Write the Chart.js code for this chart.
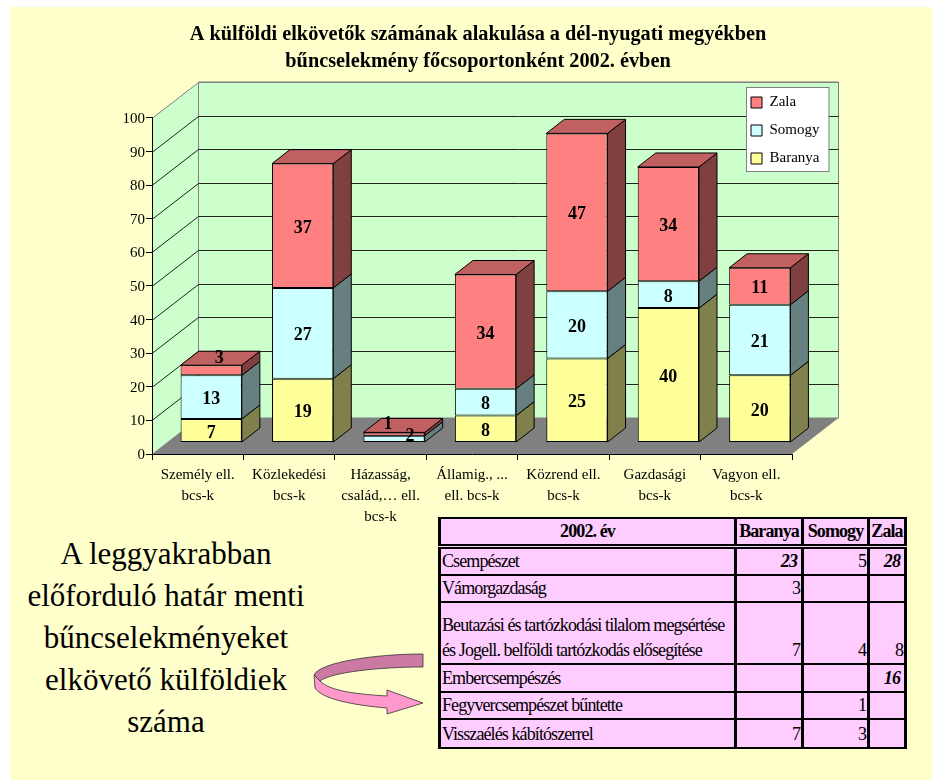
<!DOCTYPE html>
<html lang="hu">
<head>
<meta charset="utf-8">
<title>Külföldi elkövetők 2002</title>
<script src="https://cdn.jsdelivr.net/npm/chart.js@4"></script>
<style>
    html, body { margin: 0; padding: 0; background: #fff; overflow: hidden; }
    #lap { position: absolute; left: 10px; top: 7px; width: 922px; height: 773px; background: #ffffcc; }
    #grafikon { position: absolute; left: 24px; top: 0; }
    #szoveg {
        position: absolute; left: 0; top: 533px; width: 332px; text-align: center;
        font: 31px/42px "Liberation Serif", serif; color: #000;
    }
    #nyil { position: absolute; left: 300px; top: 640px; }
    #tabla {
        position: absolute; left: 438px; top: 517px; width: 466px; table-layout: fixed;
        border-collapse: collapse; background: #ffccff; color: #000;
        font: 18px/25px "Liberation Serif", serif; letter-spacing: -0.9px;
    }
    #tabla td, #tabla th { border: 2px solid #000; border-left-width: 3px; border-right-width: 3px; padding: 0 1px; vertical-align: bottom; overflow: hidden; white-space: nowrap; }
    #tabla th { text-align: center; border-bottom: 5px double #000; }
    #tabla td.szam { text-align: right; }
    #tabla td.kiemelt { font-weight: bold; font-style: italic; padding-right: 4px; }
</style>
</head>
<body>
<div id="lap"></div>
<canvas id="grafikon" width="908" height="530"></canvas>
<div id="szoveg">A leggyakrabban<br>előforduló határ menti<br>bűncselekményeket<br>elkövető külföldiek<br>száma</div>
<svg id="nyil" width="130" height="80" viewBox="300 640 130 80">
    <path d="M423,654 C376,654 320,662 314,675 L320,681 C332,672 380,667 423,667 Z" fill="#cc7aa3" stroke="#333" stroke-width="0.8"/>
    <path d="M314,675 L315,688 C322,699 352,705 387,708 L387,714 L423,703 L387,690 L387,696 C355,694 330,691 320,681 Z" fill="#ff99cc" stroke="#333" stroke-width="0.8"/>
</svg>
<table id="tabla"></table>

<script>
// Adatok
const categories = [
    ['Személy ell.', 'bcs-k'],
    ['Közlekedési', 'bcs-k'],
    ['Házasság,', 'család,… ell.', 'bcs-k'],
    ['Államig., ...', 'ell. bcs-k'],
    ['Közrend ell.', 'bcs-k'],
    ['Gazdasági', 'bcs-k'],
    ['Vagyon ell.', 'bcs-k']
];
const baranya = [7, 19, 0, 8, 25, 40, 20];
const somogy = [13, 27, 2, 8, 20, 8, 21];
const zala = [3, 37, 1, 34, 47, 34, 11];

const titleLines = [
    'A külföldi elkövetők számának alakulása a dél-nyugati megyékben',
    'bűncselekmény főcsoportonként 2002. évben'
];

const tableHeader = ['2002. év', 'Baranya', 'Somogy', 'Zala'];
const tableRows = [
    ['Csempészet'],
    ['Vámorgazdaság'],
    ['Beutazási és tartózkodási tilalom megsértése', 'és Jogell. belföldi tartózkodás elősegítése'],
    ['Embercsempészés'],
    ['Fegyvercsempészet bűntette'],
    ['Visszaélés kábítószerrel']
];
const tableBaranya = ['23', '3', '7', '', '', '7'];
const tableSomogy = ['5', '', '4', '', '1', '3'];
const tableZala = ['28', '', '8', '16', '', ''];
const tableBold = ['23', '28', '16'];

// Táblázat
const colWidths = [296, 67, 66, 37];
const rowHeights = [27, 28, 27, 62, 28, 27, 29];
const table = document.getElementById('tabla');
const colgroup = document.createElement('colgroup');
colWidths.forEach(function (w) {
    const col = document.createElement('col');
    col.style.width = w + 'px';
    colgroup.appendChild(col);
});
table.appendChild(colgroup);

const headRow = table.insertRow();
headRow.style.height = rowHeights[0] + 'px';
tableHeader.forEach(function (text) {
    const th = document.createElement('th');
    th.textContent = text;
    headRow.appendChild(th);
});
tableRows.forEach(function (lines, i) {
    const tr = table.insertRow();
    tr.style.height = rowHeights[i + 1] + 'px';
    const name = tr.insertCell();
    name.innerHTML = lines.join('<br>');
    [tableBaranya, tableSomogy, tableZala].forEach(function (column) {
        const td = tr.insertCell();
        td.textContent = column[i];
        td.className = tableBold.includes(column[i]) ? 'szam kiemelt' : 'szam';
    });
});

// 3D hatás: a fal és az oszlopok eltolása
const wall = { dx: 46.5, dy: 36 };
const barShift = { dx: 13.5, dy: 11.5 };
const barDepth = { dx: 18, dy: 14 };
const sideColors = ['#80804d', '#668080', '#804040'];
const topColor = '#c06060';
const legendFrame = { x: 722, y: 87, w: 82.5, h: 84 };
const FONT = '"Liberation Serif", serif';

// kézzel arrébb tolt feliratok, mint az eredetin: sorozat:kategória
const labelNudges = { '2:0': [8, -14.5], '2:2': [-6, -12.5], '1:2': [16, -5.5] };

function quad(ctx, pts, fill, stroke) {
    ctx.beginPath();
    ctx.moveTo(pts[0][0], pts[0][1]);
    for (let i = 1; i < pts.length; i++) ctx.lineTo(pts[i][0], pts[i][1]);
    ctx.closePath();
    ctx.fillStyle = fill;
    ctx.fill();
    if (stroke) {
        ctx.strokeStyle = stroke;
        ctx.lineWidth = 1;
        ctx.stroke();
    }
}

const scene3d = {
    id: 'scene3d',
    afterLayout: function (chart) {
        // a cím a teljes vászonra, a jelmagyarázat a fal jobb felső sarkába kerül
        chart.titleBlock.left = 0;
        chart.titleBlock.right = chart.width;
        chart.legend.left = legendFrame.x - 8;
        chart.legend.right = legendFrame.x + legendFrame.w;
        chart.legend.top = legendFrame.y - 5;
        chart.legend.bottom = legendFrame.y + legendFrame.h + 40;
    },
    beforeDraw: function (chart) {
        const ctx = chart.ctx;
        const a = chart.chartArea;
        const y = chart.scales.y;
        ctx.save();
        // oldalfal, hátsó fal, padló
        quad(ctx, [[a.left, a.top], [a.left + wall.dx, a.top - wall.dy], [a.left + wall.dx, a.bottom - wall.dy], [a.left, a.bottom]], '#ccffcc');
        quad(ctx, [[a.left + wall.dx, a.top - wall.dy], [a.right + wall.dx, a.top - wall.dy], [a.right + wall.dx, a.bottom - wall.dy], [a.left + wall.dx, a.bottom - wall.dy]], '#ccffcc', '#808080');
        quad(ctx, [[a.left, a.bottom], [a.right, a.bottom], [a.right + wall.dx, a.bottom - wall.dy], [a.left + wall.dx, a.bottom - wall.dy]], '#808080');

        // rácsvonalak
        y.ticks.forEach(function (t) {
            if (t.value === 0) return;
            const py = Math.round(y.getPixelForValue(t.value)) + 0.5;
            ctx.strokeStyle = t.value === 100 ? '#808080' : '#222';
            ctx.lineWidth = 1;
            ctx.beginPath();
            ctx.moveTo(a.left, py);
            ctx.lineTo(a.left + wall.dx, py - wall.dy);
            ctx.lineTo(a.right + wall.dx, py - wall.dy);
            ctx.stroke();
        });

        // jelmagyarázat kerete
        ctx.fillStyle = '#fff';
        ctx.strokeStyle = '#808080';
        ctx.fillRect(legendFrame.x, legendFrame.y, legendFrame.w, legendFrame.h);
        ctx.strokeRect(legendFrame.x + 0.5, legendFrame.y + 0.5, legendFrame.w, legendFrame.h);
        ctx.restore();
    },
    beforeDatasetsDraw: function (chart) {
        const ctx = chart.ctx;
        ctx.save();
        ctx.translate(barShift.dx, -barShift.dy);
        chart.data.datasets.forEach(function (ds, di) {
            chart.getDatasetMeta(di).data.forEach(function (bar, i) {
                if (!ds.data[i]) return;
                const r = bar.x + bar.width / 2;
                const l = bar.x - bar.width / 2;
                quad(ctx, [[r, bar.y], [r + barDepth.dx, bar.y - barDepth.dy], [r + barDepth.dx, bar.base - barDepth.dy], [r, bar.base]], sideColors[di], '#000');
                if (di === chart.data.datasets.length - 1) {
                    quad(ctx, [[l, bar.y], [l + barDepth.dx, bar.y - barDepth.dy], [r + barDepth.dx, bar.y - barDepth.dy], [r, bar.y]], topColor, '#000');
                }
            });
        });
    },
    afterDatasetsDraw: function (chart) {
        const ctx = chart.ctx;
        ctx.restore();
        ctx.save();
        ctx.font = 'bold 18px ' + FONT;
        ctx.fillStyle = '#000';
        ctx.textAlign = 'center';
        ctx.textBaseline = 'middle';
        chart.data.datasets.forEach(function (ds, di) {
            chart.getDatasetMeta(di).data.forEach(function (bar, i) {
                if (!ds.data[i]) return;
                const nudge = labelNudges[di + ':' + i] || [0, 0];
                ctx.fillText(ds.data[i], bar.x + barShift.dx + nudge[0], (bar.y + bar.base) / 2 - barShift.dy + 2.5 + nudge[1]);
            });
        });
        ctx.restore();
    }
};

function series(label, data, color) {
    return {
        label: label,
        data: data,
        backgroundColor: color,
        borderColor: '#000',
        borderWidth: 1,
        borderSkipped: false,
        barPercentage: 0.67,
        categoryPercentage: 1,
        clip: false
    };
}

new Chart(document.getElementById('grafikon'), {
    type: 'bar',
    data: {
        labels: categories,
        datasets: [
            series('Baranya', baranya, '#ffff99'),
            series('Somogy', somogy, '#ccffff'),
            series('Zala', zala, '#ff8080')
        ]
    },
    plugins: [scene3d],
    options: {
        responsive: false,
        animation: false,
        layout: { padding: { right: 140 } },
        plugins: {
            title: {
                display: true,
                text: titleLines,
                color: '#000',
                font: { family: FONT, size: 20.3, weight: 'bold', lineHeight: 1.33 },
                padding: { top: 21, bottom: 43 }
            },
            legend: {
                position: 'chartArea',
                align: 'start',
                reverse: true,
                labels: {
                    boxWidth: 11,
                    boxHeight: 11,
                    padding: 13,
                    color: '#000',
                    font: { family: FONT, size: 15 }
                }
            },
            tooltip: { enabled: false }
        },
        scales: {
            x: {
                stacked: true,
                afterFit: function (s) { s.height = 76; },
                border: { color: '#000' },
                grid: { drawOnChartArea: false, color: '#000', tickLength: 6 },
                ticks: {
                    autoSkip: false,
                    maxRotation: 0,
                    padding: 5,
                    color: '#000',
                    font: { family: FONT, size: 15, lineHeight: 1.4 }
                }
            },
            y: {
                stacked: true,
                min: 0,
                max: 100,
                afterFit: function (s) { s.width = 128; },
                border: { color: '#000' },
                grid: { drawOnChartArea: false, color: '#000', tickLength: 6 },
                ticks: {
                    stepSize: 10,
                    padding: 1,
                    labelOffset: 1,
                    color: '#000',
                    font: { family: FONT, size: 15 }
                }
            }
        }
    }
});
</script>
</body>
</html>
